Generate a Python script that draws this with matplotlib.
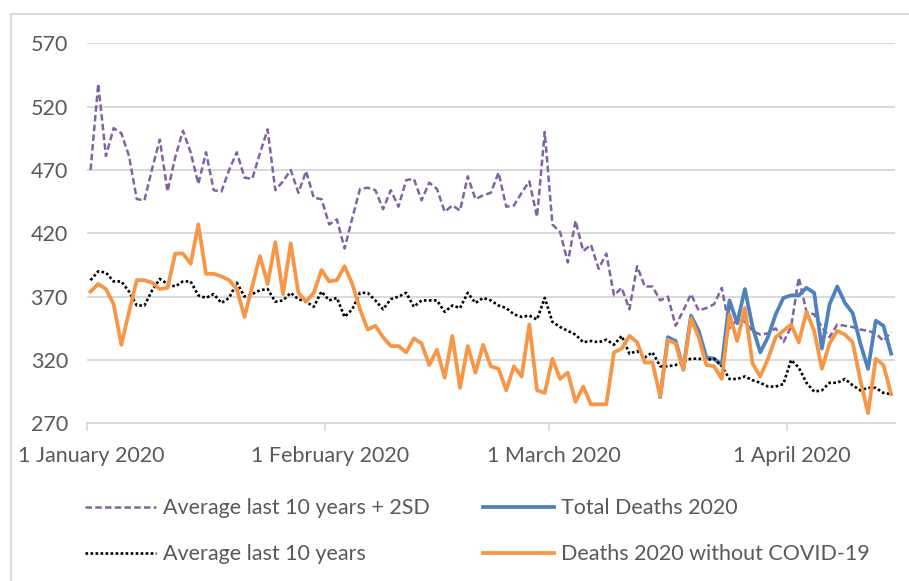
import numpy as np
import pandas as pd
import matplotlib
matplotlib.use("Agg")
import matplotlib.pyplot as plt
import matplotlib.transforms as mtransforms
from matplotlib.patches import Rectangle

# daily values, 1 Jan 2020 .. 14 Apr 2020
START = "2020-01-01"

avg_plus_2sd = [
    470, 538, 481, 503, 499, 481, 447, 446, 471, 494,
    453, 480, 501, 484, 459, 484, 454, 453, 470, 484,
    464, 463, 483, 502, 454, 461, 470, 452, 469, 448,
    447, 427, 431, 408, 432, 455, 456, 454, 439, 454,
    441, 462, 463, 446, 460, 455, 437, 442, 438, 465,
    447, 450, 452, 468, 441, 442, 452, 461, 433, 500,
    427, 421, 397, 430, 406, 411, 392, 404, 371, 377,
    360, 394, 378, 378, 367, 370, 347, 359, 372, 359,
    361, 364, 377, 345, 352, 350, 343, 340, 341, 345,
    334, 346, 385, 358, 356, 346, 338, 348, 347, 346,
    344, 343, 341, 335, 342,
]

avg_10y = [
    383, 390, 389, 382, 382, 374, 363, 363, 375, 384,
    380, 378, 382, 382, 371, 369, 372, 365, 369, 381,
    370, 372, 375, 376, 366, 367, 373, 368, 366, 362,
    374, 367, 369, 354, 360, 373, 373, 367, 360, 368,
    370, 373, 362, 367, 367, 367, 358, 363, 361, 373,
    365, 369, 367, 363, 361, 356, 354, 355, 352, 369,
    350, 346, 343, 340, 334, 335, 334, 336, 332, 339,
    325, 327, 322, 326, 315, 315, 316, 319, 321, 321,
    320, 321, 315, 305, 305, 307, 304, 302, 299, 299,
    301, 320, 314, 302, 295, 296, 302, 302, 305, 300,
    296, 298, 298, 294, 293,
]

deaths_no_covid = [
    374, 380, 376, 364, 332, 358, 383, 383, 381, 376,
    377, 404, 404, 396, 427, 388, 388, 386, 383, 376,
    354, 378, 402, 380, 413, 372, 412, 373, 366, 373,
    391, 382, 383, 394, 380, 360, 344, 347, 338, 331,
    331, 326, 337, 333, 316, 328, 306, 339, 298, 331,
    310, 332, 315, 313, 296, 315, 307, 348, 296, 294,
    321, 305, 310, 287, 299, 285, 285, 285, 326, 329,
    339, 334, 318, 318, 291, 336, 333, 312, 353, 338,
    316, 315, 305, 356, 335, 361, 317, 307, 321, 338,
    343, 348, 334, 358, 343, 313, 333, 343, 340, 334,
    304, 278, 321, 316, 293,
]

# total deaths only differ from the orange line from mid March on
TOTAL_START = "2020-03-15"
total_deaths = [
    291, 338, 335, 313, 355, 343, 322, 321, 316, 367,
    349, 376, 346, 326, 338, 356, 369, 371, 371, 377,
    373, 329, 364, 378, 365, 357, 333, 313, 351, 347,
    325,
]

ticks = ["2020-01-01", "2020-02-01", "2020-03-01", "2020-04-01"]
tick_labels = ["1 January 2020", "1 February 2020", "1 March 2020", "1 April 2020"]
y_ticks = [270, 320, 370, 420, 470, 520, 570]

GRID = "#d9d9d9"
TXT = "#595959"
plt.rcParams["font.family"] = ["Lato", "DejaVu Sans"]

half = pd.Timedelta(hours=12)
days = pd.date_range(START, periods=len(avg_10y)) + half
days_total = pd.date_range(TOTAL_START, periods=len(total_deaths)) + half

fig = plt.figure(figsize=(9.09, 5.81), dpi=100)
ax = fig.add_axes([86.7 / 909, 1 - 423.3 / 581, (895 - 86.7) / 909, (423.3 - 43.3) / 581])

# chart border
fig.patches.append(Rectangle((11 / 909, -0.1), 1.2, 1 - 14 / 581 + 0.1, transform=fig.transFigure,
                             fill=False, edgecolor=GRID, linewidth=1.5))

ax.plot(days, avg_plus_2sd, color="#8064A2", lw=1.8, linestyle=(0, (2.6, 1.3)),
        label="Average last 10 years + 2SD")
ax.plot(days_total, total_deaths, color="#4F81BD", lw=2.7, label="Total Deaths 2020")
ax.plot(days, avg_10y, color="black", lw=1.9, linestyle=(0, (1, 0.9)),
        label="Average last 10 years")
ax.plot(days, deaths_no_covid, color="#F79646", lw=2.7, label="Deaths 2020 without COVID-19")

ax.set_ylim(270, 570)
ax.set_yticks(y_ticks)
ax.set_xlim(pd.Timestamp("2020-01-01"), pd.Timestamp("2020-04-15"))
ax.set_xticks(pd.to_datetime(ticks))
ax.set_xticklabels(tick_labels)

ax.grid(axis="y", color=GRID, lw=1.4)
ax.set_axisbelow(True)
for s in ["top", "right", "left"]:
    ax.spines[s].set_visible(False)
ax.spines["bottom"].set_color(GRID)
ax.spines["bottom"].set_linewidth(1.4)
ax.tick_params(axis="y", length=0, pad=13.5, labelsize=15.5, labelcolor=TXT)
ax.tick_params(axis="x", length=6, width=1.2, color=GRID, pad=10, labelsize=15.5, labelcolor=TXT)

# labels sit a little right of their ticks in the original
shift = mtransforms.ScaledTranslation(5 / 100, 0, fig.dpi_scale_trans)
for lab in ax.get_xticklabels():
    lab.set_transform(lab.get_transform() + shift)

h, l = ax.get_legend_handles_labels()
order = [0, 2, 1, 3]
fig.legend([h[i] for i in order], [l[i] for i in order], ncol=2, frameon=False,
           loc="upper left", bbox_to_anchor=(66 / 909, 1 - 479 / 581),
           fontsize=15.5, labelcolor=TXT, handlelength=3.3, handletextpad=0.3,
           columnspacing=2.5, labelspacing=1.2)

fig.savefig("out.png", dpi=100)
